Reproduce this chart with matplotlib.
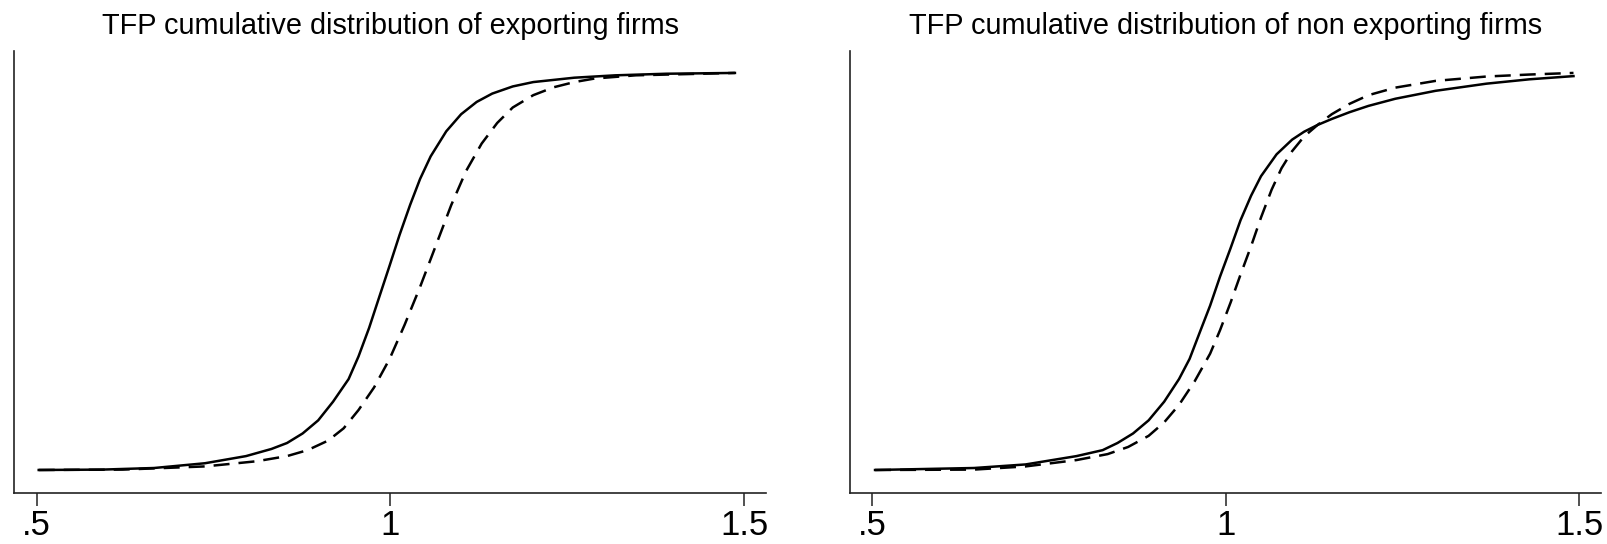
import matplotlib.pyplot as plt

plt.rcParams['font.family'] = ['Liberation Sans', 'DejaVu Sans']

# exporting firms: TFP grid and cumulative shares (solid / dashed)
exp_tfp_solid = [0.503, 0.593, 0.666, 0.738, 0.796, 0.832, 0.854, 0.876, 0.898, 0.919,
                 0.941, 0.955, 0.970, 0.984, 0.999, 1.013, 1.028, 1.042, 1.057, 1.079,
                 1.100, 1.122, 1.144, 1.173, 1.202, 1.260, 1.318, 1.390, 1.487]
exp_cdf_solid = [0.000, 0.001, 0.005, 0.017, 0.035, 0.053, 0.068, 0.092, 0.125, 0.172,
                 0.229, 0.286, 0.358, 0.434, 0.515, 0.592, 0.668, 0.733, 0.790, 0.853,
                 0.896, 0.927, 0.948, 0.966, 0.977, 0.988, 0.994, 0.998, 1.000]
exp_tfp_dash = [0.503, 0.622, 0.738, 0.811, 0.854, 0.883, 0.912, 0.934, 0.955, 0.977,
                0.999, 1.020, 1.042, 1.064, 1.086, 1.107, 1.129, 1.151, 1.173, 1.202,
                1.231, 1.260, 1.289, 1.347, 1.487]
exp_cdf_dash = [0.000, 0.001, 0.009, 0.022, 0.035, 0.050, 0.074, 0.105, 0.151, 0.208,
                0.280, 0.365, 0.461, 0.564, 0.667, 0.753, 0.822, 0.874, 0.913, 0.944,
                0.964, 0.977, 0.986, 0.994, 1.000]

# non exporting firms
non_tfp_solid = [0.504, 0.644, 0.717, 0.789, 0.826, 0.847, 0.869, 0.891, 0.913, 0.934,
                 0.949, 0.963, 0.978, 0.992, 1.007, 1.021, 1.036, 1.050, 1.072, 1.094,
                 1.111, 1.130, 1.150, 1.175, 1.202, 1.240, 1.297, 1.369, 1.430, 1.492]
non_cdf_solid = [0.000, 0.005, 0.014, 0.035, 0.050, 0.068, 0.092, 0.125, 0.172, 0.229,
                 0.280, 0.345, 0.414, 0.487, 0.559, 0.629, 0.691, 0.740, 0.795, 0.832,
                 0.852, 0.869, 0.884, 0.901, 0.917, 0.935, 0.955, 0.973, 0.984, 0.992]
non_tfp_dash = [0.504, 0.644, 0.717, 0.789, 0.833, 0.862, 0.891, 0.913, 0.934, 0.956,
                0.978, 0.992, 1.007, 1.021, 1.036, 1.050, 1.065, 1.079, 1.094, 1.111,
                1.130, 1.150, 1.175, 1.202, 1.240, 1.297, 1.369, 1.430, 1.492]
non_cdf_dash = [0.000, 0.001, 0.009, 0.025, 0.040, 0.058, 0.086, 0.120, 0.164, 0.223,
                0.293, 0.352, 0.422, 0.492, 0.564, 0.636, 0.706, 0.760, 0.803, 0.840,
                0.869, 0.896, 0.922, 0.944, 0.963, 0.980, 0.991, 0.996, 1.000]

titles = ['TFP cumulative distribution of exporting firms',
          'TFP cumulative distribution of non exporting firms']
xticks = [0.5, 1.0, 1.5]
xticklabels = ['.5', '1', '1.5']

fig = plt.figure(figsize=(16.07, 5.44), dpi=100)
ax1 = fig.add_axes([0.0089, 0.0932, 0.4678, 0.8136])
ax2 = fig.add_axes([0.5289, 0.0932, 0.4674, 0.8136])

panels = [
    (ax1, exp_tfp_solid, exp_cdf_solid, exp_tfp_dash, exp_cdf_dash),
    (ax2, non_tfp_solid, non_cdf_solid, non_tfp_dash, non_cdf_dash),
]

for (ax, xs, ys, xd, yd), title in zip(panels, titles):
    ax.plot(xs, ys, color='black', lw=1.8, solid_joinstyle='round')
    ax.plot(xd, yd, color='black', lw=1.8, dashes=(6.4, 3.6))
    ax.set_xlim(0.4685, 1.531)
    ax.set_ylim(-0.0587, 1.056)
    ax.set_xticks(xticks)
    ax.set_xticklabels(xticklabels)
    ax.set_yticks([])
    ax.spines['top'].set_visible(False)
    ax.spines['right'].set_visible(False)
    for side in ('left', 'bottom'):
        ax.spines[side].set_linewidth(1.2)
        ax.spines[side].set_color('#222222')
    ax.tick_params(axis='x', length=9.5, width=1.1, color='#222222',
                   labelsize=25, pad=2)
    ax.set_title(title, fontsize=20.8, pad=12)

fig.savefig('out.png', dpi=100)
